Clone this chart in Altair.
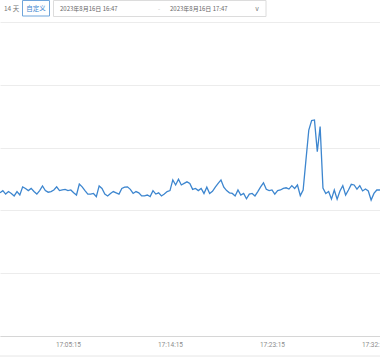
import altair as alt
import pandas as pd

# ---- data (15 s samples, visible window only) ----
start_time = "2023-08-16 16:59:15"
values = [
    45.6, 46.3, 45.2, 46.0, 45.4, 44.6, 46.0, 44.9, 47.5, 47.0, 46.3, 47.0, 46.0, 45.2, 46.3, 47.8,
    46.3, 45.8, 46.0, 46.5, 47.5, 46.3, 46.5, 46.7, 46.3, 46.5, 45.6, 44.9, 48.4, 47.5, 46.3, 45.2, 45.2,
    45.4, 44.4, 47.8, 47.0, 45.2, 44.6, 45.4, 46.0, 45.6, 45.2, 47.0, 47.4, 47.5, 46.7, 45.4, 46.0,
    45.6, 44.6, 44.6, 44.9, 44.4, 46.3, 45.2, 45.6, 44.6, 45.2, 46.0, 46.3, 49.7, 48.1, 49.9, 48.1, 48.6, 49.1,
    48.6, 46.7, 47.0, 46.3, 47.0, 45.4, 47.4, 45.4, 46.1, 47.4, 48.6, 49.7, 47.4, 46.3, 45.6, 45.4,
    44.6, 46.5, 44.9, 45.4, 43.7, 45.2, 45.4, 44.6, 46.0, 47.5, 48.8, 46.7, 46.3, 46.5, 45.2, 46.3, 46.5, 47.0,
    47.2, 46.8, 47.9, 47.0, 48.1, 44.7, 46.5, 56.1, 65.6, 68.6, 68.8, 58.7, 66.7, 47.1, 45.4, 46.0,
    43.6, 46.5, 43.6, 46.2, 47.9, 44.9, 46.5, 48.3, 48.1, 46.8, 47.9, 46.2, 46.8, 46.2, 43.3, 45.4,
    46.5, 46.5, 46.8,
]
tick_times = ["17:05:15", "17:14:15", "17:23:15", "17:32:15"]
range_label = "14 天"
custom_label = "自定义"
date_from = "2023年8月16日 16:47"
date_to = "2023年8月16日 17:47"

times = pd.date_range(start_time, periods=len(values), freq="15s")
df = pd.DataFrame({"time": times, "value": values})

W, H = 380, 314
LINE = "#3d86cf"
CJK = "Noto Sans CJK SC"


def dt(hms):
    h, m, s = [int(p) for p in hms.split(":")]
    return alt.DateTime(year=2023, month=8, date=16, hours=h, minutes=m, seconds=s)


x_scale = alt.Scale(domain=[dt("16:59:15"), dt("17:32:47")])

line = alt.Chart(df).mark_line(color=LINE, strokeWidth=1.3, clip=True).encode(
    x=alt.X("time:T", scale=x_scale, title=None,
            axis=alt.Axis(values=[dt(t) for t in tick_times], format="%H:%M:%S",
                          ticks=False, grid=False, domain=True, domainColor="#d6d6d6",
                          labelFont="Roboto", labelFontSize=6.5, labelColor="#8c8c8c",
                          labelPadding=5, labelFlush=False)),
    y=alt.Y("value:Q", scale=alt.Scale(domain=[0, 100]), title=None,
            axis=alt.Axis(values=[0, 20, 40, 60, 80, 100], labels=False, ticks=False,
                          domain=False, grid=True, gridColor="#ececec", gridWidth=1)),
)

one = pd.DataFrame({"k": [0]})

# header controls (drawn above the plot area)
btn_box = alt.Chart(one).mark_rect(fill="white", stroke="#6fa5db", strokeWidth=1).encode(
    x=alt.value(22.5), x2=alt.value(49.5), y=alt.value(-21.5), y2=alt.value(-6))
date_box = alt.Chart(one).mark_rect(fill="white", stroke="#dcdcdc", strokeWidth=1).encode(
    x=alt.value(53.5), x2=alt.value(266), y=alt.value(-21.5), y2=alt.value(-5.5))

t_range = alt.Chart(pd.DataFrame({"t": [range_label]})).mark_text(
    align="left", baseline="middle", font=CJK, fontSize=6.5, color="#777777").encode(
    text="t:N", x=alt.value(4), y=alt.value(-13.5))
t_custom = alt.Chart(pd.DataFrame({"t": [custom_label]})).mark_text(
    align="center", baseline="middle", font=CJK, fontSize=6.5, color="#3d86cf").encode(
    text="t:N", x=alt.value(36), y=alt.value(-13.5))
t_from = alt.Chart(pd.DataFrame({"t": [date_from]})).mark_text(
    align="left", baseline="middle", font=CJK, fontSize=6, color="#666666").encode(
    text="t:N", x=alt.value(60), y=alt.value(-13.5))
t_dash = alt.Chart(pd.DataFrame({"t": ["-"]})).mark_text(
    align="center", baseline="middle", font=CJK, fontSize=6, color="#bbbbbb").encode(
    text="t:N", x=alt.value(159), y=alt.value(-13.5))
t_to = alt.Chart(pd.DataFrame({"t": [date_to]})).mark_text(
    align="left", baseline="middle", font=CJK, fontSize=6, color="#666666").encode(
    text="t:N", x=alt.value(170), y=alt.value(-13.5))
t_chev = alt.Chart(pd.DataFrame({"t": ["∨"]})).mark_text(
    align="center", baseline="middle", font="DejaVu Sans", fontSize=7, color="#8a8a8a").encode(
    text="t:N", x=alt.value(257), y=alt.value(-13.5))

bottom_rule = alt.Chart(one).mark_rule(color="#e6e6e6", strokeWidth=1).encode(
    x=alt.value(0), x2=alt.value(W), y=alt.value(H + 20))

chart = alt.layer(
    line, bottom_rule, btn_box, date_box, t_range, t_custom, t_from, t_dash, t_to, t_chev
).properties(
    width=W, height=H,
    autosize=alt.AutoSizeParams(type="none"),
    padding={"left": 0, "right": 0, "top": 22, "bottom": 24},
    background="white",
).configure_view(strokeWidth=0)

chart.save("out.html", embed_options={"renderer": "svg", "actions": False})
